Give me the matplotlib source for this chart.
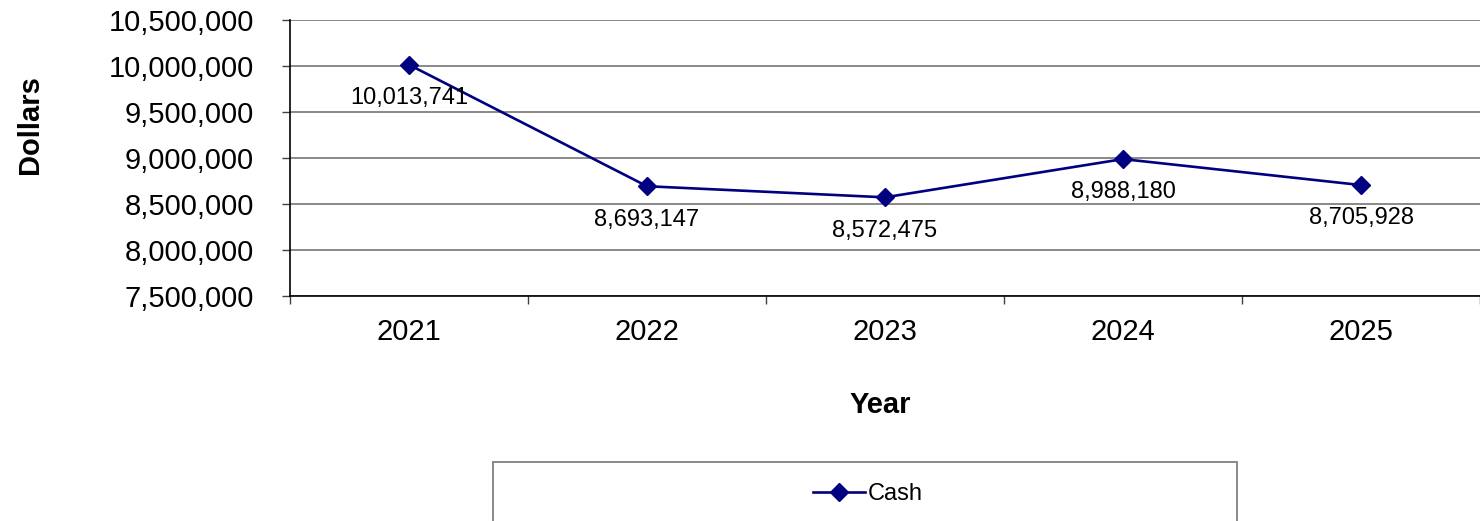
import numpy as np
import matplotlib.pyplot as plt
from matplotlib.patches import Rectangle
from matplotlib.lines import Line2D
from matplotlib.ticker import FuncFormatter

plt.rcParams['font.family'] = ['Liberation Sans', 'DejaVu Sans']

# Data
years = ['2021', '2022', '2023', '2024', '2025']
cash = [10013741, 8693147, 8572475, 8988180, 8705928]

W, H = 1480, 521
fig = plt.figure(figsize=(W / 100, H / 100), dpi=100)
ax = fig.add_axes([290 / W, 1 - 296 / H, 1 - 290 / W, (296 - 20) / H])

x = np.arange(len(years))
navy = '#000080'
ax.plot(x, cash, color=navy, lw=1.9, marker='D', ms=9, mfc=navy, mec=navy,
        clip_on=False, zorder=3)

# data labels below each point
for xi, v in zip(x, cash):
    ax.annotate('{:,}'.format(v), (xi, v), xytext=(0, -24), textcoords='offset points',
                ha='center', va='center', fontsize=17)

ax.set_xlim(-0.5, (W - 290) / 239 - 0.5)
ax.set_ylim(7500000, 10500000)
ax.set_yticks(np.arange(7500000, 10500001, 500000))
ax.yaxis.set_major_formatter(FuncFormatter(lambda v, p: '{:,.0f}'.format(v)))
ax.tick_params(axis='y', labelsize=21, length=6, width=1, color='#404040', pad=20)

# category labels at centres, tick marks at boundaries
ax.set_xticks(x)
ax.set_xticklabels(years)
ax.set_xticks(np.arange(-0.5, 5.0, 1), minor=True)
ax.tick_params(axis='x', which='major', length=0, labelsize=21, pad=16)
ax.tick_params(axis='x', which='minor', length=6, width=1, color='#404040')

ax.grid(axis='y', color='#808080', lw=1.3)
ax.set_axisbelow(True)
for s in ['top', 'right']:
    ax.spines[s].set_visible(False)
ax.spines['left'].set_color('black')
ax.spines['bottom'].set_color('black')
ax.spines['left'].set_linewidth(1.2)
ax.spines['bottom'].set_linewidth(1.2)

fig.text(30 / W, 1 - 125 / H, 'Dollars', rotation=90, ha='center', va='center',
         fontsize=21, fontweight='bold')
fig.text(880 / W, 1 - 405 / H, 'Year', ha='center', va='center',
         fontsize=21, fontweight='bold')

# legend box (runs off the bottom of the image)
fig.patches.append(Rectangle((493 / W, -0.1), (1237 - 493) / W, 0.1 + (521 - 462) / H,
                             transform=fig.transFigure, fill=False,
                             edgecolor='#808080', lw=1.3))
handle = Line2D([], [], color=navy, lw=1.9, marker='D', ms=9, mfc=navy, mec=navy)
fig.legend([handle], ['Cash'], loc='center', bbox_to_anchor=(868 / W, 1 - 494 / H),
           frameon=False, fontsize=17, handlelength=2.2, handletextpad=0.1)

fig.savefig('out.png', dpi=100)
